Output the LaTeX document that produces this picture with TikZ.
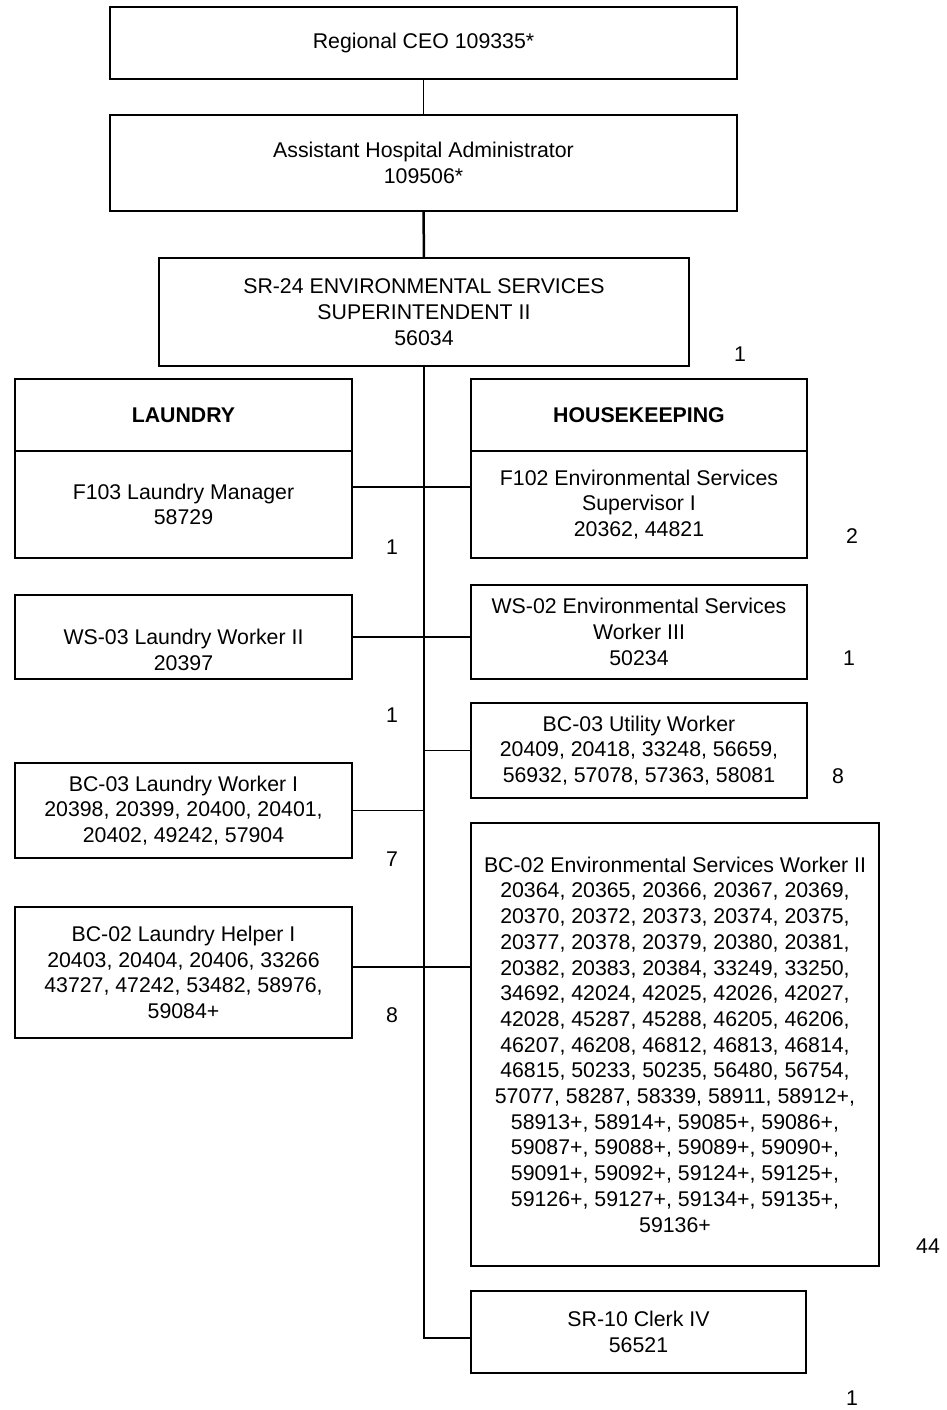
\documentclass[tikz,border=0pt]{standalone}
\usepackage{fontspec}
\setmainfont{Liberation Sans}
\begin{document}
\begin{tikzpicture}[x=1pt,y=-1pt,
  txt/.style={font=\fontsize{21.3}{25.7}\selectfont, align=center, inner sep=0pt},
  box/.style={txt, draw, line width=2pt, outer sep=0pt},
  frame/.style={draw, line width=2pt, inner sep=0pt, outer sep=0pt},
  link/.style={line width=1.6pt},
  cnt/.style={txt}]
\useasboundingbox (0,0) rectangle (947,1410);
\fill[white] (0,0) rectangle (947,1410);
% top chain
\node[box, minimum width=627pt, minimum height=72pt] (ceo) at (423.5,43) {Regional CEO 109335*};
\node[box, minimum width=627pt, minimum height=96pt] (asst) at (423.5,163) {Assistant Hospital Administrator\\109506*};
\node[box, minimum width=530pt, minimum height=108pt] (sr24) at (424,312) {SR-24 ENVIRONMENTAL SERVICES\\SUPERINTENDENT II\\56034};
% left column
\node[box, minimum width=337pt, minimum height=72pt, font=\fontsize{21.3}{25.7}\selectfont\bfseries] (laundry) at (183.5,415) {LAUNDRY};
\node[box, minimum width=337pt, minimum height=107pt] (f103) at (183.5,504.5) {F103 Laundry Manager\\58729};
\node[frame, minimum width=337pt, minimum height=84pt] (ws03) at (183.5,637) {};
\node[txt] (ws03t) at (183.5,650) {WS-03 Laundry Worker II\\20397};
\node[box, minimum width=337pt, minimum height=95pt] (lw1) at (183.5,810.5) {BC-03 Laundry Worker I\\20398, 20399, 20400, 20401,\\20402, 49242, 57904};
\node[box, minimum width=337pt, minimum height=131pt] (helper) at (183.5,972.5) {BC-02 Laundry Helper I\\20403, 20404, 20406, 33266\\43727, 47242, 53482, 58976,\\59084+};
% right column
\node[box, minimum width=336pt, minimum height=72pt, font=\fontsize{21.3}{25.7}\selectfont\bfseries] (hk) at (639,415) {HOUSEKEEPING};
\node[box, minimum width=336pt, minimum height=107pt] (f102) at (639,504.5) {F102 Environmental Services\\Supervisor I\\20362, 44821};
\node[box, minimum width=336pt, minimum height=94pt] (ws02) at (639,632) {WS-02 Environmental Services\\Worker III\\50234};
\node[box, minimum width=336pt, minimum height=95pt] (util) at (639,750.5) {BC-03 Utility Worker\\20409, 20418, 33248, 56659,\\56932, 57078, 57363, 58081};
\node[box, minimum width=408pt, minimum height=443pt] (esw) at (675,1044.5) {BC-02 Environmental Services Worker II\\20364, 20365, 20366, 20367, 20369,\\20370, 20372, 20373, 20374, 20375,\\20377, 20378, 20379, 20380, 20381,\\20382, 20383, 20384, 33249, 33250,\\34692, 42024, 42025, 42026, 42027,\\42028, 45287, 45288, 46205, 46206,\\46207, 46208, 46812, 46813, 46814,\\46815, 50233, 50235, 56480, 56754,\\57077, 58287, 58339, 58911, 58912+,\\58913+, 58914+, 59085+, 59086+,\\59087+, 59088+, 59089+, 59090+,\\59091+, 59092+, 59124+, 59125+,\\59126+, 59127+, 59134+, 59135+,\\59136+};
\node[box, minimum width=335pt, minimum height=82pt] (clerk) at (638.5,1332) {SR-10 Clerk IV\\56521};
% counts
\node[cnt] (c1) at (740,354) {1};
\node[cnt] (c2) at (392,547) {1};
\node[cnt] (c3) at (852,536) {2};
\node[cnt] (c4) at (849,658) {1};
\node[cnt] (c5) at (392,715) {1};
\node[cnt] (c6) at (838,776) {8};
\node[cnt] (c7) at (392,859) {7};
\node[cnt] (c8) at (392,1015) {8};
\node[cnt] (c9) at (928,1246) {44};
\node[cnt] (c10) at (852,1398) {1};
% connectors
\draw[link] (ceo.south) -- (asst.north);
\draw[line width=2.5pt] (asst.south) -- (sr24.north);
\coordinate (cw) at ([yshift=-6pt]clerk.west);
\draw[link] (sr24.south) -- (sr24.south |- cw) -- (cw);
\coordinate (f103e) at ([yshift=17.5pt]f103.east);
\draw[link] (f103e) -- (f103e -| f102.west);
\draw[link] (ws03.east) -- (ws03.east -| ws02.west);
\draw[link] (sr24.south |- util.west) -- (util.west);
\draw[link] (lw1.east) -- (lw1.east -| sr24.south);
\coordinate (helpe) at ([yshift=5.5pt]helper.east);
\draw[link] (helpe) -- (helpe -| esw.west);
\end{tikzpicture}
\end{document}
